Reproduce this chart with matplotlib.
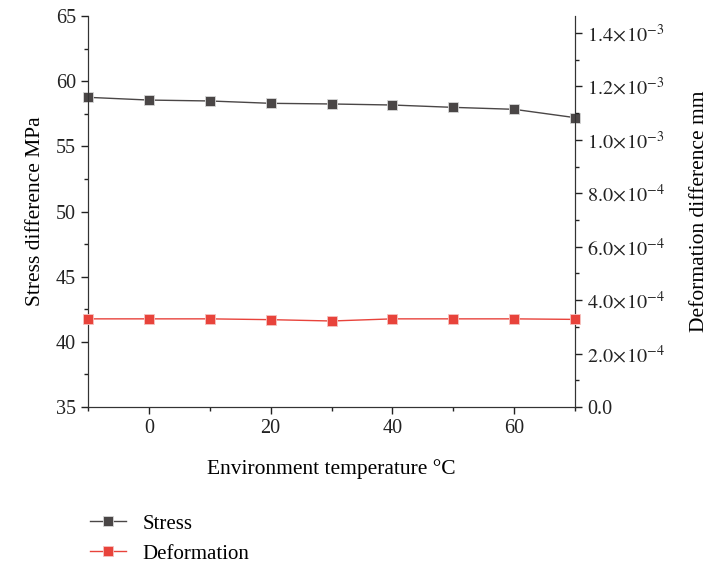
import numpy as np
import matplotlib.pyplot as plt
from matplotlib.ticker import MultipleLocator, FuncFormatter

plt.rcParams['font.family'] = ['Liberation Serif', 'DejaVu Serif']
plt.rcParams['mathtext.fontset'] = 'stix'

temperature = [-10, 0, 10, 20, 30, 40, 50, 60, 70]
stress = [58.76, 58.55, 58.48, 58.30, 58.25, 58.17, 57.99, 57.84, 57.20]
deformation = [3.30e-4, 3.30e-4, 3.30e-4, 3.27e-4, 3.22e-4, 3.30e-4, 3.30e-4, 3.30e-4, 3.28e-4]

stress_color = "#4a4646"
deform_color = "#e8433b"


def sci_fmt(v, pos):
    if abs(v) < 1e-12:
        return "0.0"
    exp = int(np.floor(np.log10(abs(v))))
    mant = v / 10 ** exp
    return r"$%.1f\!\times\!10^{%d}$" % (mant, exp)


fig = plt.figure(figsize=(7.13, 5.65), dpi=100)
ax = fig.add_axes([0.1234, 0.2796, 0.6831, 0.6921])
ax2 = ax.twinx()

l1, = ax.plot(temperature, stress, color=stress_color, lw=1.0, marker="s",
              markersize=7, markeredgecolor="#d8d8d8", markeredgewidth=0.6,
              clip_on=False, zorder=3)
l2, = ax2.plot(temperature, deformation, color=deform_color, lw=1.0, marker="s",
               markersize=7, markeredgecolor="#f6c3c0", markeredgewidth=0.6,
               clip_on=False, zorder=3)

ax.set_xlim(-10, 70)
ax.set_ylim(35, 65)
ax2.set_ylim(0, 1.4636e-3)

ax.xaxis.set_major_locator(MultipleLocator(20))
ax.xaxis.set_minor_locator(MultipleLocator(10))
ax.yaxis.set_major_locator(MultipleLocator(5))
ax.yaxis.set_minor_locator(MultipleLocator(2.5))
ax2.yaxis.set_major_locator(MultipleLocator(2e-4))
ax2.yaxis.set_minor_locator(MultipleLocator(1e-4))
ax2.yaxis.set_major_formatter(FuncFormatter(sci_fmt))

for a in (ax, ax2):
    a.tick_params(which="major", direction="out", length=5, width=1, labelsize=14.5, colors="#222222")
    a.tick_params(which="minor", direction="out", length=3, width=1, colors="#222222")
    for s in a.spines.values():
        s.set_color("#333333")
ax.spines["top"].set_visible(False)
ax2.spines["top"].set_visible(False)
ax.tick_params(axis="x", which="both", top=False)

ax.set_xlabel("Environment temperature °C", fontsize=15.5, labelpad=15)
ax.set_ylabel("Stress difference MPa", fontsize=15.5, labelpad=8)
ax2.set_ylabel("Deformation difference mm", fontsize=15.5, labelpad=18)

fig.legend([l1, l2], ["Stress", "Deformation"], loc="upper left",
           bbox_to_anchor=(0.115, 0.105), frameon=False, fontsize=15,
           handlelength=1.7, handletextpad=0.8, labelspacing=0.5, borderaxespad=0)

fig.savefig("out.png", dpi=100)
